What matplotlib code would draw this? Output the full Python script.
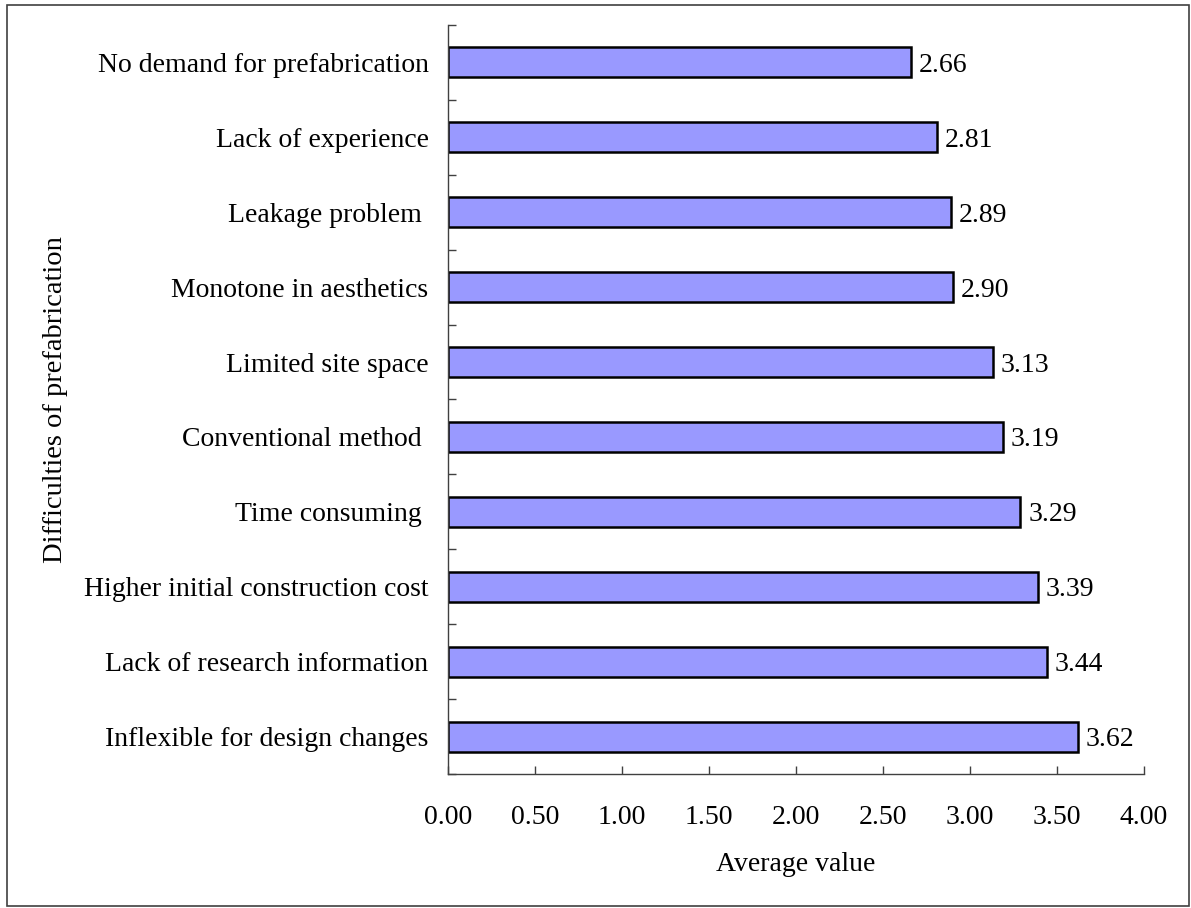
"""Average difficulty scores of prefabrication (horizontal bar chart)."""

import matplotlib
matplotlib.use("Agg")
import matplotlib.pyplot as plt
from matplotlib.patches import Rectangle

plt.rcParams["font.family"] = ["Liberation Serif", "DejaVu Serif"]

# bottom-to-top order, as drawn on the y axis
difficulties = [
    "Inflexible for design changes",
    "Lack of research information",
    "Higher initial construction cost",
    "Time consuming ",
    "Conventional method ",
    "Limited site space",
    "Monotone in aesthetics",
    "Leakage problem ",
    "Lack of experience",
    "No demand for prefabrication",
]
average_values = [3.62, 3.44, 3.39, 3.29, 3.19, 3.13, 2.90, 2.89, 2.81, 2.66]
x_ticks = [0.0, 0.5, 1.0, 1.5, 2.0, 2.5, 3.0, 3.5, 4.0]

FS = 20
W, H = 1191, 908
fig = plt.figure(figsize=(W / 100, H / 100), dpi=100)

# outer frame around the whole chart
fig.patches.append(Rectangle((7 / W, 2 / H), (W - 9) / W, (H - 7) / H,
                             transform=fig.transFigure, fill=False,
                             edgecolor="#404040", linewidth=1.2))

ax = fig.add_axes([448 / W, 1 - 774 / H, (1144 - 448) / W, (774 - 25) / H])

pos = list(range(len(difficulties)))
ax.barh(pos, average_values, height=0.4, color="#9999FF",
        edgecolor="black", linewidth=1.8)
for y, v in zip(pos, average_values):
    ax.text(v + 0.045, y, f"{v:.2f}", va="center_baseline", ha="left",
            fontsize=FS)

ax.set_xlim(0, 4)
ax.set_ylim(-0.5, len(difficulties) - 0.5)
ax.set_xticks(x_ticks)
ax.set_xticklabels([f"{t:.2f}" for t in x_ticks], fontsize=FS)

# category names sit between tick marks placed at the boundaries
ax.set_yticks(pos)
ax.set_yticklabels(difficulties, fontsize=FS)
ax.set_yticks([p - 0.5 for p in pos] + [len(pos) - 0.5], minor=True)
ax.tick_params(axis="y", which="major", length=0, pad=14)
ax.tick_params(axis="y", which="minor", direction="in", length=5.5,
               color="#404040", width=1)
ax.tick_params(axis="x", direction="in", length=6, color="#404040",
               width=1, pad=22)

for side in ("top", "right"):
    ax.spines[side].set_visible(False)
for side in ("left", "bottom"):
    ax.spines[side].set_color("#404040")
    ax.spines[side].set_linewidth(1)

ax.set_xlabel("Average value", fontsize=FS, labelpad=16)
ax.set_ylabel("Difficulties of prefabrication", fontsize=20.5)
ax.yaxis.set_label_coords((68 - 448) / (1144 - 448), 0.5)

fig.savefig("out.png", dpi=100)
